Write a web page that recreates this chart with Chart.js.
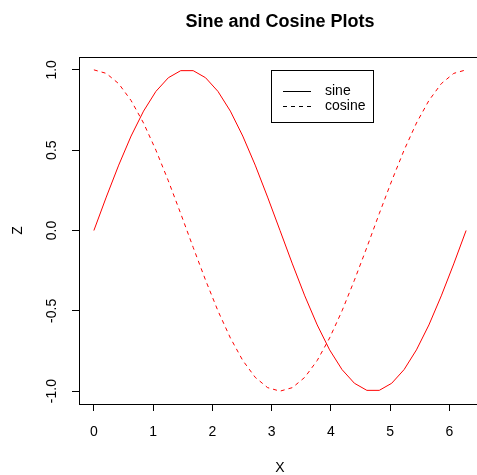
<!DOCTYPE html>
<html>
<head>
<meta charset="utf-8">
<script src="https://cdn.jsdelivr.net/npm/chart.js@4"></script>
<style>
  html, body { margin: 0; padding: 0; background: #fff; overflow: hidden; }
  canvas { display: block; }
</style>
</head>
<body>
<canvas id="chart" width="484" height="475"></canvas>
<script>
// x from 0 to 2*pi, 31 samples
const xValues = [0, 0.209, 0.419, 0.628, 0.838, 1.047, 1.257, 1.466, 1.676, 1.885, 2.094, 2.304, 2.513, 2.723, 2.932, 3.142,
  3.351, 3.560, 3.770, 3.979, 4.189, 4.398, 4.608, 4.817, 5.027, 5.236, 5.445, 5.655, 5.864, 6.074, 6.283];
const sineValues = [0, 0.208, 0.407, 0.588, 0.743, 0.866, 0.951, 0.995, 0.995, 0.951, 0.866, 0.743, 0.588, 0.407, 0.208, 0,
  -0.208, -0.407, -0.588, -0.743, -0.866, -0.951, -0.995, -0.995, -0.951, -0.866, -0.743, -0.588, -0.407, -0.208, 0];
const cosineValues = [1, 0.978, 0.914, 0.809, 0.669, 0.5, 0.309, 0.105, -0.105, -0.309, -0.5, -0.669, -0.809, -0.914, -0.978, -1,
  -0.978, -0.914, -0.809, -0.669, -0.5, -0.309, -0.105, 0.105, 0.309, 0.5, 0.669, 0.809, 0.914, 0.978, 1];
const xTicks = [0, 1, 2, 3, 4, 5, 6];
const yTicks = [-1, -0.5, 0, 0.5, 1];
const yTickLabels = ["-1.0", "-0.5", "0.0", "0.5", "1.0"];
const chartTitle = 'Sine and Cosine Plots';

const FONT = "'Liberation Sans', Arial, sans-serif";

// R style box around plot, title over the plot region, legend inside
const boxPlugin = {
  id: 'rbox',
  afterDraw(chart) {
    const { ctx, chartArea: a } = chart;
    ctx.save();
    ctx.strokeStyle = '#000';
    ctx.lineWidth = 1;
    ctx.strokeRect(Math.round(a.left) + 0.5, Math.round(a.top) + 0.5,
      Math.round(a.right - a.left), Math.round(a.bottom - a.top));

    // title, centred on plot region like R
    ctx.fillStyle = '#000';
    ctx.font = 'bold 18px ' + FONT;
    ctx.textAlign = 'center';
    ctx.textBaseline = 'middle';
    ctx.fillText(chartTitle, (a.left + a.right) / 2, 22);

    // legend
    const lx = 271.5, ly = 70.5, lw = 102, lh = 52;
    ctx.fillStyle = '#fff';
    ctx.fillRect(lx, ly, lw, lh);
    ctx.strokeRect(lx, ly, lw, lh);
    ctx.font = '14px ' + FONT;
    ctx.textBaseline = 'middle';
    ctx.textAlign = 'left';
    chart.data.datasets.forEach((ds, i) => {
      const y = Math.round(ly + 20 + i * 15) + 0.5;
      ctx.strokeStyle = '#000';
      ctx.setLineDash(ds.borderDash || []);
      ctx.beginPath();
      ctx.moveTo(283, y);
      ctx.lineTo(311, y);
      ctx.stroke();
      ctx.setLineDash([]);
      ctx.fillStyle = '#000';
      ctx.fillText(ds.label, 325, y);
    });
    ctx.restore();
  }
};

new Chart(document.getElementById('chart').getContext('2d'), {
  type: 'line',
  data: {
    datasets: [
      {
        label: 'sine',
        data: xValues.map((x, i) => ({ x, y: sineValues[i] })),
        borderColor: '#ff0000',
        borderWidth: 1,
        pointRadius: 0,
        tension: 0,
        fill: false
      },
      {
        label: 'cosine',
        data: xValues.map((x, i) => ({ x, y: cosineValues[i] })),
        borderColor: '#ff0000',
        borderWidth: 1,
        borderDash: [4, 4],
        pointRadius: 0,
        tension: 0,
        fill: false
      }
    ]
  },
  options: {
    responsive: false,
    animation: false,
    layout: { padding: { left: 0, right: 3, top: 57, bottom: 0 } },
    plugins: {
      legend: { display: false },
      tooltip: { enabled: false },
      title: { display: false }
    },
    scales: {
      x: {
        type: 'linear',
        min: -0.2513,
        max: 6.5345,
        afterBuildTicks: s => { s.ticks = xTicks.map(v => ({ value: v })); },
        afterFit: s => { s.height = 71; },
        grid: { drawOnChartArea: false, color: '#000', tickLength: 7 },
        border: { display: false },
        ticks: {
          color: '#000',
          font: { family: FONT, size: 14 },
          padding: 13,
          maxRotation: 0,
          callback: v => String(v)
        },
        title: {
          display: true,
          text: 'X',
          color: '#000',
          font: { family: FONT, size: 14 },
          padding: { top: 0, bottom: -2 }
        }
      },
      y: {
        type: 'linear',
        min: -1.08,
        max: 1.08,
        afterBuildTicks: s => { s.ticks = yTicks.map(v => ({ value: v })); },
        afterFit: s => { s.width = 79; },
        grid: { drawOnChartArea: false, color: '#000', tickLength: 7 },
        border: { display: false },
        ticks: {
          color: '#000',
          font: { family: FONT, size: 14 },
          padding: 8,
          minRotation: 90,
          maxRotation: 90,
          crossAlign: 'center',
          callback: v => yTickLabels[yTicks.indexOf(v)]
        },
        title: {
          display: true,
          text: 'Z',
          color: '#000',
          font: { family: FONT, size: 14 },
          padding: { top: 10, bottom: 0 }
        }
      }
    }
  },
  plugins: [boxPlugin]
});
</script>
</body>
</html>
